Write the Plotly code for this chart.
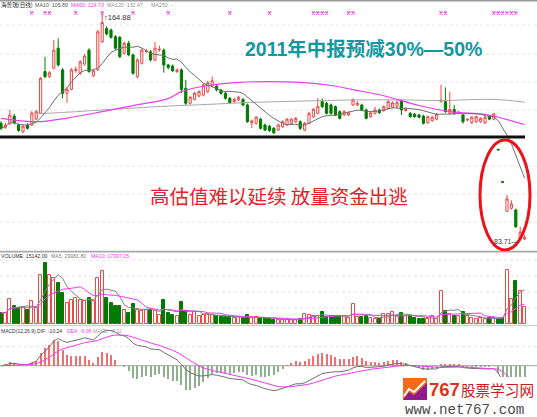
import pandas as pd
import plotly.graph_objects as go

W, H = 537, 417

# ---- daily OHLC (120 sessions) ----
opens = [125.6, 124.2, 125.6, 128.2, 125.0, 122.6, 125.0, 125.0, 127.2, 129.2,
         144.2, 142.4, 145.4, 152.6, 144.8, 136.4, 137.8, 144.6, 143.6, 146.9,
         151.9, 142.7, 144.8, 154.9, 159.7, 159.1, 156.7, 156.5, 150.8, 154.4,
         150.2, 142.4, 147.2, 151.5, 151.3, 148.4, 152.0, 151.9, 146.6, 146.2,
         144.2, 144.8, 138.2, 132.8, 134.2, 135.4, 135.8, 137.0, 139.0, 139.0,
         137.6, 136.4, 134.6, 133.4, 134.0, 134.2, 132.2, 125.8, 125.6, 127.1,
         125.0, 124.6, 123.8, 123.2, 124.4, 125.0, 125.6, 126.2, 126.2, 123.2,
         125.6, 128.0, 129.2, 133.4, 132.8, 132.2, 131.6, 129.8, 128.6, 128.6,
         132.2, 132.2, 132.2, 130.4, 128.0, 129.2, 130.4, 130.2, 131.0, 131.4,
         131.6, 133.7, 130.2, 129.2, 128.9, 128.6, 128.2, 125.8, 126.6, 127.1,
         133.4, 133.4, 129.2, 130.6, 129.3, 128.6, 126.8, 125.8, 126.2, 126.2,
         125.8, 128.2, 127.1, 116.3, 104.7, 94.0, 95.1, 94.5, 84.4, 84.0]
highs = [126.4, 125.8, 130.4, 129.0, 125.6, 125.2, 125.6, 130.0, 130.4, 142.3,
         149.5, 144.4, 155.5, 156.1, 145.5, 138.5, 145.5, 146.0, 148.4, 150.5,
         152.6, 145.0, 159.2, 164.88, 160.5, 159.7, 157.3, 157.0, 155.0, 155.2,
         150.6, 149.0, 152.5, 152.4, 152.0, 154.8, 153.5, 152.5, 147.0, 146.7,
         145.3, 145.4, 141.2, 135.5, 136.9, 137.5, 139.9, 140.9, 142.4, 139.6,
         138.0, 136.9, 135.1, 134.8, 135.5, 134.7, 132.7, 127.0, 128.2, 127.6,
         125.5, 125.1, 124.3, 125.5, 126.7, 127.6, 127.5, 127.9, 126.7, 126.1,
         129.7, 131.1, 134.7, 134.6, 133.3, 132.7, 132.0, 130.3, 130.3, 129.9,
         134.6, 133.5, 132.7, 130.9, 129.9, 131.6, 130.9, 132.0, 133.9, 133.5,
         134.0, 134.3, 131.6, 129.7, 129.3, 129.0, 128.7, 128.4, 128.2, 129.3,
         139.4, 138.5, 137.0, 132.2, 130.1, 129.0, 127.5, 128.2, 128.4, 127.8,
         128.2, 128.6, 129.4, 116.3, 104.7, 99.9, 98.0, 95.0, 88.5, 85.5]
lows = [123.2, 123.6, 125.0, 125.2, 122.6, 122.1, 123.4, 124.6, 126.8, 128.9,
        141.8, 141.9, 145.0, 146.0, 134.6, 133.0, 137.5, 143.8, 143.0, 146.4,
        143.8, 142.2, 144.4, 154.5, 157.2, 156.0, 152.0, 149.0, 150.2, 149.7,
        143.0, 141.8, 146.7, 150.8, 147.8, 147.9, 151.3, 143.8, 145.0, 144.0,
        143.7, 136.5, 132.2, 132.3, 133.8, 135.0, 135.3, 136.5, 138.5, 137.1,
        135.9, 134.1, 132.5, 132.9, 133.6, 131.8, 125.8, 123.9, 125.2, 123.4,
        122.8, 122.5, 121.8, 122.8, 124.0, 124.6, 125.2, 125.8, 123.2, 122.8,
        125.2, 127.6, 128.8, 131.1, 128.8, 128.7, 128.2, 127.0, 128.2, 128.2,
        131.8, 131.8, 130.0, 127.0, 127.6, 128.8, 129.0, 129.7, 130.6, 131.0,
        131.2, 128.6, 129.8, 127.6, 127.6, 127.4, 125.2, 125.4, 126.2, 126.7,
        133.0, 129.4, 128.8, 128.8, 128.9, 125.5, 126.3, 125.4, 125.8, 125.8,
        125.4, 126.7, 126.7, 116.06, 104.45, 94.0, 94.6, 88.0, 83.71, 83.9]
closes = [123.8, 125.0, 128.6, 125.8, 123.0, 124.6, 123.8, 129.3, 129.8, 141.8,
          142.4, 143.8, 151.9, 146.6, 136.4, 137.8, 144.8, 145.0, 147.7, 149.8,
          144.2, 144.5, 158.5, 161.8, 157.7, 156.5, 152.6, 149.6, 154.4, 150.2,
          143.6, 148.4, 151.9, 151.7, 148.4, 152.6, 152.2, 146.6, 145.7, 144.5,
          144.8, 137.8, 132.8, 135.0, 136.4, 137.0, 139.4, 140.2, 140.9, 137.6,
          136.4, 134.6, 133.0, 134.2, 135.0, 132.2, 126.2, 126.5, 127.8, 123.8,
          123.2, 123.0, 122.2, 125.0, 126.2, 127.1, 127.1, 127.4, 123.8, 125.6,
          129.2, 130.6, 131.6, 131.6, 129.2, 129.2, 128.6, 127.4, 129.8, 129.4,
          134.0, 132.8, 130.4, 127.4, 129.4, 130.4, 129.4, 131.6, 133.4, 133.0,
          133.0, 130.4, 130.5, 128.0, 128.0, 127.8, 125.6, 128.0, 127.8, 128.9,
          134.0, 129.8, 130.6, 129.2, 129.6, 126.2, 127.0, 127.8, 128.0, 127.4,
          127.8, 127.1, 129.0, 116.06, 104.45, 98.5, 96.6, 88.5, 86.5, 84.6]

# ---- daily volume ----
volumes = [9600, 9800, 21900, 15800, 14000, 14900, 12300, 20100, 14000, 42900,
           53400, 42900, 40300, 35900, 27100, 18400, 21000, 22800, 21000, 20100,
           22800, 20100, 40300, 46400, 22800, 18400, 15800, 15800, 12300, 9600,
           17500, 12300, 11400, 12300, 12300, 11400, 7900, 21000, 9600, 7900,
           7000, 19300, 11400, 7900, 10500, 7000, 7900, 8800, 7900, 7000,
           6100, 6100, 6100, 5300, 6100, 5300, 7900, 5300, 6100, 5300,
           5300, 4400, 3500, 3700, 3500, 3800, 3500, 3600, 4400, 8800,
           7900, 7000, 7000, 10500, 6100, 7000, 7000, 7000, 7000, 5300,
           17500, 6100, 6100, 7000, 5300, 4400, 4400, 8800, 8800, 10500,
           7000, 9600, 7000, 7000, 5300, 4400, 4400, 4400, 7000, 4400,
           28900, 11400, 8800, 7000, 7000, 10500, 7000, 5300, 4400, 5300,
           4600, 4900, 5200, 4100, 5264, 47000, 21500, 37267, 29000, 15142]

# ---- longer moving averages (read at selected sessions) ----
ma60_day = [0, 8, 15, 23, 30, 38, 41, 47, 54, 61, 68, 75, 80, 87, 95, 102, 110, 113, 119]
ma60_val = [127.4, 126.2, 127.5, 129.8, 132.0, 134.5, 137.0, 139.2, 140.3, 140.6,
            140.3, 139.2, 137.7, 135.5, 132.0, 129.8, 128.8, 127.8, 125.2]
ma120_day = [8, 15, 23, 38, 47, 55, 68, 80, 92, 100, 112, 119]
ma120_val = [129.0, 129.6, 130.4, 131.8, 132.4, 133.0, 133.6, 134.0, 134.0, 133.8, 134.2, 133.2]

# sessions carrying an information marker
event_days = [7, 10, 11, 17, 23, 30, 38, 52, 61, 71, 72, 73, 74, 79, 80,
              100, 101, 112, 113, 114, 115, 116, 117]

support_level = 120.7
high_day, high_price = 23, 164.88
low_day, low_price = 118, 83.71

# ---- derived indicators ----
n = len(closes)
days = list(range(n))
cs = pd.Series(closes)
ma10 = cs.rolling(10, min_periods=1).mean()
vs = pd.Series(volumes)
vma5 = vs.rolling(5, min_periods=1).mean()
vma10 = vs.rolling(10, min_periods=1).mean()
ema12 = cs.ewm(span=12, adjust=False).mean()
ema26 = cs.ewm(span=26, adjust=False).mean()
dif = ema12 - ema26
dea = dif.ewm(span=9, adjust=False).mean()
macd = 2 * (dif - dea)

RED = "#F04848"
GREEN = "#007A00"
MAGENTA = "#F03CF0"
LATIN = "Liberation Sans, Arial, sans-serif"
CJK = "Noto Sans CJK SC, sans-serif"


def dom(top, bot):
    return [1 - bot / H, 1 - top / H]


def px(x):
    return x / W


def py(y):
    return 1 - y / H


STEP = 4.4          # pixels per session
X0 = 1.0            # pixel centre of the first session
x_range = [(0 - X0) / STEP, (W - X0) / STEP]

# price panel: 164.88 sits 14px from the top, 2.784 px per yuan
PPU = 2.784
price_top = high_price + 14 / PPU
price_bot = price_top - 251 / PPU

fig = go.Figure()

fig.add_trace(go.Candlestick(
    x=days, open=opens, high=highs, low=lows, close=closes,
    increasing=dict(line=dict(color=RED, width=1), fillcolor="white"),
    decreasing=dict(line=dict(color=GREEN, width=1), fillcolor=GREEN),
    whiskerwidth=0, showlegend=False, hoverinfo="skip",
    xaxis="x", yaxis="y"))

fig.add_trace(go.Scatter(x=ma120_day, y=ma120_val, mode="lines",
                         line=dict(color="#A8A8A8", width=1, shape="spline"),
                         showlegend=False, hoverinfo="skip", yaxis="y"))
fig.add_trace(go.Scatter(x=ma60_day, y=ma60_val, mode="lines",
                         line=dict(color=MAGENTA, width=1.2, shape="spline"),
                         showlegend=False, hoverinfo="skip", yaxis="y"))
fig.add_trace(go.Scatter(x=days, y=ma10, mode="lines",
                         line=dict(color="#707070", width=1),
                         showlegend=False, hoverinfo="skip", yaxis="y"))

# information markers along the top edge
marker_price = high_price + 1 / PPU
fig.add_trace(go.Scatter(x=event_days, y=[marker_price] * len(event_days),
                         mode="markers",
                         marker=dict(symbol="x-thin", size=3, color=MAGENTA,
                                     line=dict(color=MAGENTA, width=1.1)),
                         showlegend=False, hoverinfo="skip", yaxis="y"))

# volume panel
up = [c >= o for o, c in zip(opens, closes)]
fig.add_trace(go.Bar(x=[d for d in days if up[d]], y=[volumes[d] for d in days if up[d]],
                     width=0.68, marker=dict(color="white", line=dict(color=RED, width=1)),
                     showlegend=False, hoverinfo="skip", yaxis="y2"))
fig.add_trace(go.Bar(x=[d for d in days if not up[d]], y=[volumes[d] for d in days if not up[d]],
                     width=0.68, marker=dict(color=GREEN, line=dict(color=GREEN, width=1)),
                     showlegend=False, hoverinfo="skip", yaxis="y2"))
fig.add_trace(go.Scatter(x=days, y=vma5, mode="lines", line=dict(color="#808080", width=1),
                         showlegend=False, hoverinfo="skip", yaxis="y2"))
fig.add_trace(go.Scatter(x=days, y=vma10, mode="lines", line=dict(color=MAGENTA, width=1),
                         showlegend=False, hoverinfo="skip", yaxis="y2"))

# MACD panel
fig.add_trace(go.Bar(x=days, y=macd, width=0.22,
                     marker=dict(color=["#F07070" if v >= 0 else "#8FB08F" for v in macd],
                                 line=dict(width=0)),
                     showlegend=False, hoverinfo="skip", yaxis="y3"))
fig.add_trace(go.Scatter(x=days, y=dif, mode="lines", line=dict(color="#707070", width=1),
                         showlegend=False, hoverinfo="skip", yaxis="y3"))
fig.add_trace(go.Scatter(x=days, y=dea, mode="lines", line=dict(color=MAGENTA, width=1),
                         showlegend=False, hoverinfo="skip", yaxis="y3"))

VOL_PER_PX = 875
vol_range = [0, (324 - 252) * VOL_PER_PX]
MACD_PPU = 4.8
macd_range = [-(417 - 365.7) / MACD_PPU, (365.7 - 327) / MACD_PPU]

hidden = dict(showgrid=False, zeroline=False, showticklabels=False, ticks="",
              showline=False, fixedrange=True)

shapes = []
# faint horizontal guides
for y in [25, 54, 82, 110, 166, 194, 222]:
    shapes.append(dict(type="line", xref="paper", yref="paper", x0=0, x1=1,
                       y0=py(y), y1=py(y), line=dict(color="#E4E4E4", width=1, dash="dot"),
                       layer="below"))
for v in [14000, 28000, 42000, 56000]:
    shapes.append(dict(type="line", xref="paper", yref="y2", x0=0, x1=1, y0=v, y1=v,
                       line=dict(color="#E4E4E4", width=1, dash="dot"), layer="below"))
shapes.append(dict(type="line", xref="paper", yref="paper", x0=0, x1=1,
                   y0=py(346.7), y1=py(346.7), line=dict(color="#E4E4E4", width=1, dash="dot"),
                   layer="below"))
shapes.append(dict(type="line", xref="paper", yref="y3", x0=0, x1=1, y0=0, y1=0,
                   line=dict(color="#A0A0A0", width=1), layer="below"))
# panel borders
shapes.append(dict(type="line", xref="paper", yref="paper", x0=0, x1=1,
                   y0=py(0.8), y1=py(0.8), line=dict(color="#9A9A9A", width=1.6)))
shapes.append(dict(type="line", xref="paper", yref="paper", x0=0, x1=1,
                   y0=py(251.6), y1=py(251.6), line=dict(color="#A8A8A8", width=1.6)))
shapes.append(dict(type="line", xref="paper", yref="paper", x0=0, x1=1,
                   y0=py(325.6), y1=py(325.6), line=dict(color="#C8C8C8", width=1)))
# support line under the consolidation range
shapes.append(dict(type="line", xref="x", yref="y", x0=x_range[0], x1=119.1,
                   y0=support_level, y1=support_level, line=dict(color="#111111", width=3)))
# ellipse around the breakdown
shapes.append(dict(type="circle", xref="x", yref="y",
                   x0=(480 - X0) / STEP, x1=(530 - X0) / STEP,
                   y0=price_top - 250 / PPU, y1=price_top - 140 / PPU,
                   line=dict(color="#E8141A", width=3)))
# watermark block
shapes.append(dict(type="rect", xref="paper", yref="paper", x0=px(401), x1=1,
                   y0=0, y1=py(377), fillcolor="white", line=dict(width=0)))
shapes.append(dict(type="rect", xref="paper", yref="paper", x0=px(403), x1=px(427),
                   y0=py(400), y1=py(378), fillcolor="#F26B1D", line=dict(width=0)))
shapes.append(dict(type="path", xref="paper", yref="paper",
                   path=f"M {px(403)},{py(400)} L {px(409)},{py(392)} L {px(414)},{py(395)} "
                        f"L {px(427)},{py(383)} L {px(427)},{py(400)} Z",
                   fillcolor="#8E1C8E", line=dict(width=0)))
shapes.append(dict(type="path", xref="paper", yref="paper",
                   path=f"M {px(404)},{py(396)} L {px(409)},{py(389)} L {px(414)},{py(392)} "
                        f"L {px(425)},{py(381)}",
                   line=dict(color="white", width=2)))

annotations = []


def note(text, x, y, size, color, family=LATIN, anchor="left", bold=False):
    annotations.append(dict(text=f"<b>{text}</b>" if bold else text,
                            xref="paper", yref="paper", x=px(x), y=py(y),
                            xanchor=anchor, yanchor="middle", showarrow=False,
                            borderpad=0,
                            font=dict(size=size, color=color, family=family)))


# header lines
note("海普瑞(日线)", 0, 5, 5.6, "#222222", CJK)
note("MA10: 105.89", 34, 5, 5.3, "#555555")
note("MA60: 124.73", 70, 5, 5.3, MAGENTA)
note("MA120: 132.47", 106, 5, 5.3, "#909090")
note("MA250: -", 150, 5, 5.3, "#909090")
note("VOLUME: 15142.00", 0, 256, 5.2, "#333333")
note("MA5: 29981.80", 50, 256, 5.2, "#808080")
note("MA10: 17397.25", 90, 256, 5.2, MAGENTA)
note("MACD(12,26,9) DIF: -10.24", 0, 330.5, 5.0, "#333333")
note("DEA: -6.06", 66, 330.5, 5.0, MAGENTA)
note("MACD: -8.32", 92, 330.5, 5.0, "#A0A0A0")

# extreme price labels
annotations.append(dict(text="↑" + f"{high_price:.2f}", x=high_day, y=high_price,
                        xref="x", yref="y", xanchor="left", yanchor="middle",
                        xshift=1, yshift=-3, showarrow=False, borderpad=0,
                        font=dict(size=7.5, color="#333333", family=LATIN)))
annotations.append(dict(text=f"{low_price:.2f}—", x=low_day, y=low_price,
                        xref="x", yref="y", xanchor="right", yanchor="middle",
                        xshift=0, yshift=-2, showarrow=False, borderpad=0,
                        font=dict(size=7, color="#333333", family=LATIN)))

# commentary
note("2011年中报预减30%—50%", 244, 49, 19.5, "#14979F",
     "Liberation Sans, Noto Sans CJK SC, sans-serif", bold=True)
note("高估值难以延续 放量资金出逃", 149, 195, 19.5, "#E8202A", CJK)

# site mark
note("767", 428, 389, 18.5, "#D9361C", "Liberation Sans, sans-serif", bold=True)
note("股票学习网", 460, 389, 14.6, "#C8201E", CJK)
note("www.net767.com", 404, 410, 14.2, "#4A4A4A", "Liberation Mono, monospace")

fig.update_layout(
    width=W, height=H, margin=dict(l=0, r=0, t=0, b=0),
    paper_bgcolor="white", plot_bgcolor="white",
    showlegend=False, barmode="overlay", bargap=0,
    xaxis=dict(range=x_range, rangeslider=dict(visible=False), anchor="y", **hidden),
    yaxis=dict(domain=dom(0, 251), range=[price_bot, price_top], anchor="x", **hidden),
    yaxis2=dict(domain=dom(252, 324), range=vol_range, anchor="x", **hidden),
    yaxis3=dict(domain=dom(327, 417), range=macd_range, anchor="x", **hidden),
    shapes=shapes, annotations=annotations,
)

fig.write_html("out.html")
